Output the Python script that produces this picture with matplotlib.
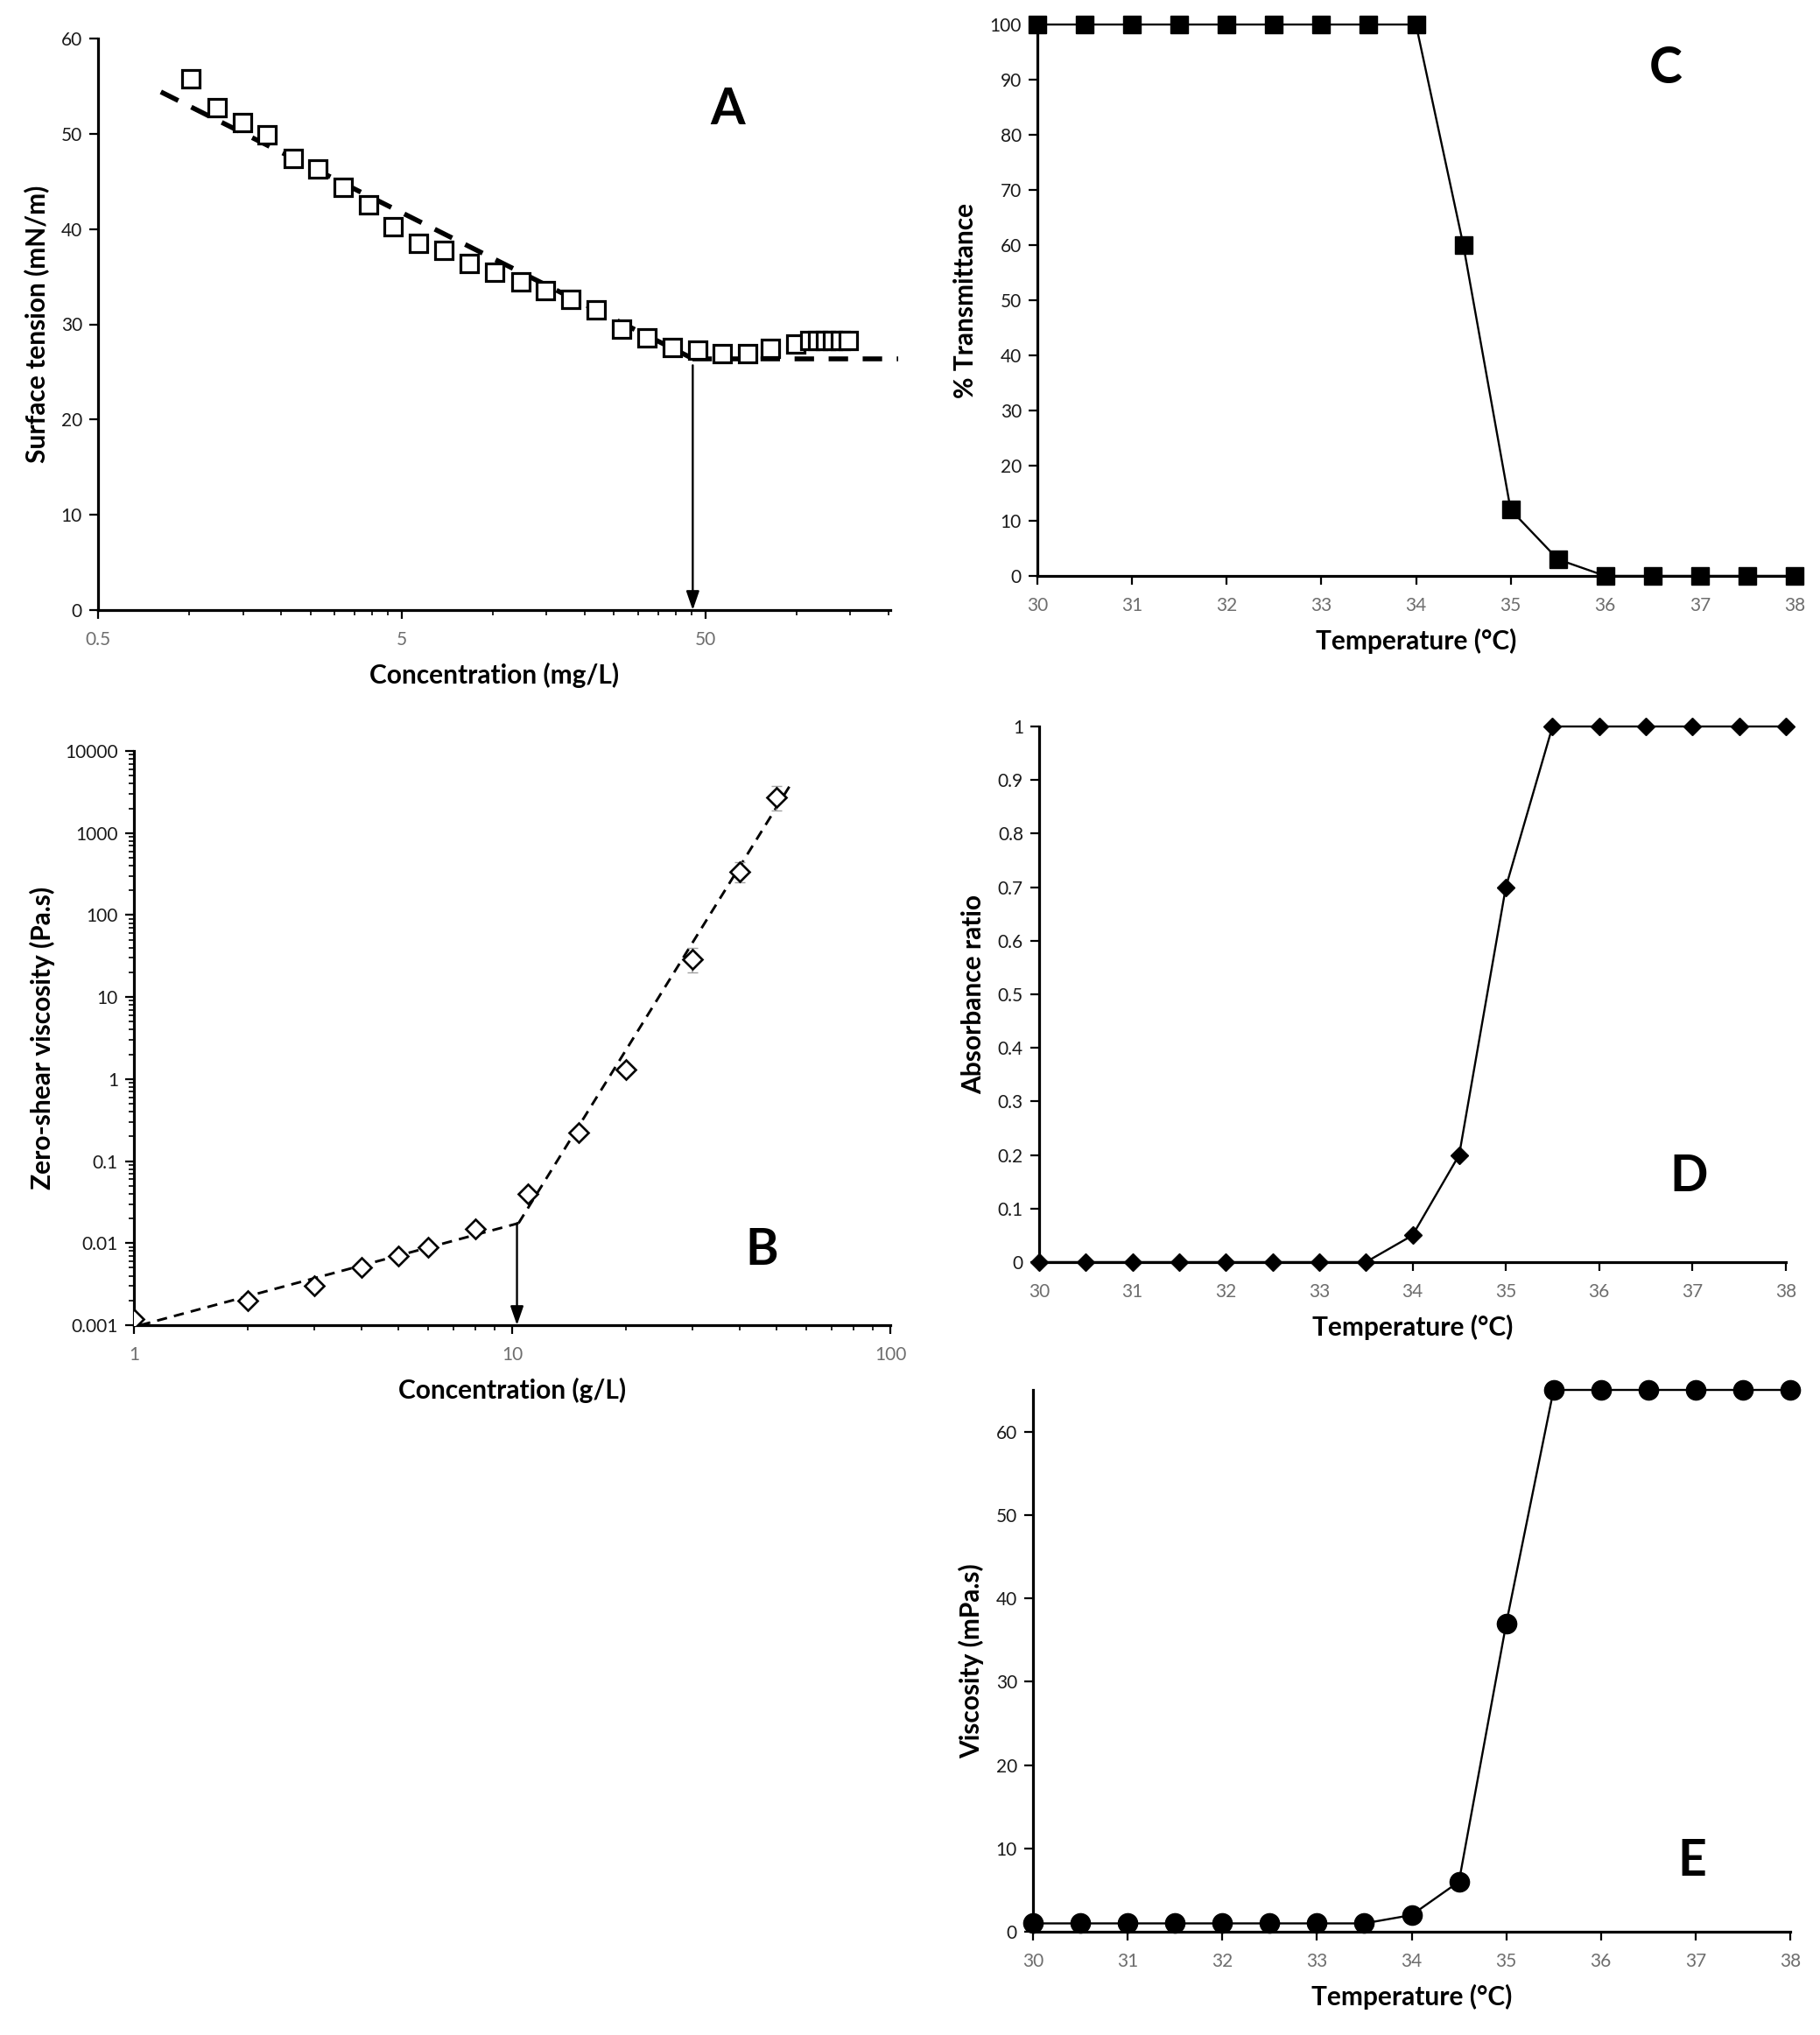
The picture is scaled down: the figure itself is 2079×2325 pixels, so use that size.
import matplotlib
matplotlib.use("Agg")
import matplotlib.pyplot as plt
from matplotlib.ticker import FixedLocator, FixedFormatter, NullFormatter
import numpy as np

plt.rcParams['font.family'] = ['Lato', 'DejaVu Sans']

# ---------------- Data ----------------
# Panel A: surface tension vs concentration (mg/L)
a_conc = [1.01, 1.23, 1.49, 1.80, 2.19, 2.65, 3.21, 3.88, 4.68, 5.68, 6.88, 8.34,
          10.1, 12.3, 14.9, 18.0, 21.8, 26.4, 32.0, 38.8, 47.0, 56.8, 68.8, 82.0,
          99.0, 110, 117, 124, 131, 139, 148]
a_tension = [55.8, 52.7, 51.2, 49.9, 47.4, 46.3, 44.4, 42.5, 40.2, 38.5, 37.8, 36.4,
             35.5, 34.5, 33.5, 32.6, 31.5, 29.5, 28.6, 27.6, 27.3, 26.9, 26.9, 27.5,
             27.9, 28.3, 28.3, 28.3, 28.3, 28.3, 28.3]
a_fit1_x = [0.805, 45.4]
a_fit1_y = [54.4, 26.4]
a_fit2_x = [45.4, 215]
a_fit2_y = [26.4, 26.4]
a_cmc = 45.4
a_xticks = [0.5, 5, 50]
a_xticklabels = ['0.5', '5', '50']
a_yticks = [0, 10, 20, 30, 40, 50, 60]

# Panel B: zero-shear viscosity vs concentration (g/L)
b_conc = [1, 2, 3, 4, 5, 6, 8, 11, 15, 20, 30, 40, 50]
b_visc = [0.0012, 0.002, 0.003, 0.005, 0.007, 0.009, 0.015, 0.04, 0.22, 1.3, 29, 340, 2700]
b_err_low = [0, 0, 0, 0, 0, 0, 0, 0, 0.02, 0.1, 9, 90, 800]
b_err_high = [0, 0, 0, 0, 0, 0, 0, 0, 0.02, 0.15, 11, 100, 1000]
b_fit1_x = [1.04, 10.4]
b_fit1_y = [0.001, 0.0175]
b_fit2_x = [10.4, 54.5]
b_fit2_y = [0.0175, 3900]
b_ce = 10.3
b_yticks = [0.001, 0.01, 0.1, 1, 10, 100, 1000, 10000]
b_yticklabels = ['0.001', '0.01', '0.1', '1', '10', '100', '1000', '10000']
b_xticks = [1, 10, 100]
b_xticklabels = ['1', '10', '100']

# Panels C, D, E: temperature series
temp = [30, 30.5, 31, 31.5, 32, 32.5, 33, 33.5, 34, 34.5, 35, 35.5, 36, 36.5, 37, 37.5, 38]
c_trans = [100, 100, 100, 100, 100, 100, 100, 100, 100, 60, 12, 3, 0, 0, 0, 0, 0]
d_abs = [0, 0, 0, 0, 0, 0, 0, 0, 0.05, 0.2, 0.7, 1, 1, 1, 1, 1, 1]
e_visc = [1, 1, 1, 1, 1, 1, 1, 1, 2, 6, 37, 65, 65, 65, 65, 65, 65]
t_ticks = [30, 31, 32, 33, 34, 35, 36, 37, 38]
c_yticks = [0, 10, 20, 30, 40, 50, 60, 70, 80, 90, 100]
d_yticks = [0, 0.1, 0.2, 0.3, 0.4, 0.5, 0.6, 0.7, 0.8, 0.9, 1]
d_yticklabels = ['0', '0.1', '0.2', '0.3', '0.4', '0.5', '0.6', '0.7', '0.8', '0.9', '1']
e_yticks = [0, 10, 20, 30, 40, 50, 60]

# ---------------- Figure ----------------
W, H = 2079, 2325
fig = plt.figure(figsize=(W / 100, H / 100), dpi=100)


def box(l, r, t, b):
    return [l / W, 1 - b / H, (r - l) / W, (b - t) / H]


XT_COLOR = '#6e6e6e'
TICK_FS = 15
LABEL_FS = 21.5
LETTER_FS = 41


def style(ax):
    for s in ['top', 'right']:
        ax.spines[s].set_visible(False)
    for s in ['left', 'bottom']:
        ax.spines[s].set_linewidth(2.3)
        ax.spines[s].set_color('black')
    ax.tick_params(which='major', direction='out', length=7, width=1.6, labelsize=TICK_FS)
    ax.tick_params(which='minor', direction='out', length=4, width=1.2)
    ax.tick_params(axis='x', which='major', labelcolor=XT_COLOR, pad=10)
    ax.tick_params(axis='y', which='major', labelcolor='#1a1a1a', pad=6)


# Panel A
axA = fig.add_axes(box(112, 1017, 44, 697))
axA.set_xscale('log')
axA.plot(a_fit1_x, a_fit1_y, color='black', lw=4.0, dashes=(4, 3.0), zorder=2)
axA.plot(a_fit2_x, a_fit2_y, color='black', lw=4.0, dashes=(4, 3.0), zorder=2, clip_on=False)
axA.plot(a_conc, a_tension, ls='none', marker='s', ms=14.5, mfc='white', mec='black', mew=2.3, zorder=3)
axA.annotate('', xy=(a_cmc, 0), xytext=(a_cmc, 25.7),
             arrowprops=dict(arrowstyle='-|>,head_length=1.3,head_width=0.45', color='black', lw=1.7,
                             shrinkA=0, shrinkB=0), zorder=4)
axA.set_xlim(0.5, 203)
axA.set_ylim(0, 60)
axA.xaxis.set_major_locator(FixedLocator(a_xticks))
axA.xaxis.set_major_formatter(FixedFormatter(a_xticklabels))
minorA = [0.5 * k * 10 ** n for n in range(0, 3) for k in range(2, 10)]
axA.xaxis.set_minor_locator(FixedLocator(minorA))
axA.xaxis.set_minor_formatter(NullFormatter())
axA.set_yticks(a_yticks)
style(axA)
axA.set_xlabel('Concentration (mg/L)', fontsize=LABEL_FS, fontweight='bold', labelpad=12)
axA.set_ylabel('Surface tension (mN/m)', fontsize=LABEL_FS, fontweight='bold', labelpad=10)
axA.text(0.795, 0.875, 'A', transform=axA.transAxes, fontsize=LETTER_FS, fontweight='bold',
         ha='center', va='center')

# Panel B
axB = fig.add_axes(box(153, 1017, 858, 1514))
axB.set_xscale('log')
axB.set_yscale('log')
axB.plot(b_fit1_x, b_fit1_y, color='black', lw=2.1, dashes=(4, 2.8), zorder=2)
axB.plot(b_fit2_x, b_fit2_y, color='black', lw=2.1, dashes=(4, 2.8), zorder=2)
axB.errorbar(b_conc, b_visc, yerr=[b_err_low, b_err_high], fmt='none', ecolor='#a0a0a0',
             elinewidth=1.2, capsize=4, zorder=2.5)
axB.plot(b_conc, b_visc, ls='none', marker='D', ms=11, mfc='white', mec='black', mew=1.9, zorder=3)
axB.annotate('', xy=(b_ce, 0.001), xytext=(b_ce, 0.0175),
             arrowprops=dict(arrowstyle='-|>,head_length=1.3,head_width=0.45', color='black', lw=1.7,
                             shrinkA=0, shrinkB=0), zorder=4)
axB.set_xlim(1, 100)
axB.set_ylim(0.001, 10000)
axB.xaxis.set_major_locator(FixedLocator(b_xticks))
axB.xaxis.set_major_formatter(FixedFormatter(b_xticklabels))
axB.xaxis.set_minor_locator(FixedLocator([k * 10 ** n for n in range(0, 2) for k in range(2, 10)]))
axB.xaxis.set_minor_formatter(NullFormatter())
axB.yaxis.set_major_locator(FixedLocator(b_yticks))
axB.yaxis.set_major_formatter(FixedFormatter(b_yticklabels))
axB.yaxis.set_minor_locator(FixedLocator([k * 10.0 ** n for n in range(-3, 4) for k in range(2, 10)]))
axB.yaxis.set_minor_formatter(NullFormatter())
style(axB)
axB.set_xlabel('Concentration (g/L)', fontsize=LABEL_FS, fontweight='bold', labelpad=12)
axB.set_ylabel('Zero-shear viscosity (Pa.s)', fontsize=LABEL_FS, fontweight='bold', labelpad=8)
axB.text(0.83, 0.13, 'B', transform=axB.transAxes, fontsize=LETTER_FS, fontweight='bold',
         ha='center', va='center')

# Panel C
axC = fig.add_axes(box(1185, 2050, 28, 658))
axC.plot(temp, c_trans, color='black', lw=1.7, marker='s', ms=15, mfc='black', mec='black', clip_on=False, zorder=3)
axC.set_xlim(30, 38)
axC.set_ylim(0, 100)
axC.set_xticks(t_ticks)
axC.set_yticks(c_yticks)
style(axC)
axC.set_xlabel('Temperature (°C)', fontsize=LABEL_FS, fontweight='bold', labelpad=12)
axC.set_ylabel('% Transmittance', fontsize=LABEL_FS, fontweight='bold', labelpad=10)
axC.text(0.83, 0.92, 'C', transform=axC.transAxes, fontsize=LETTER_FS, fontweight='bold',
         ha='center', va='center')

# Panel D
axD = fig.add_axes(box(1187, 2040, 830, 1442))
axD.plot(temp, d_abs, color='black', lw=1.7, marker='D', ms=10.5, mfc='black', mec='black', clip_on=False, zorder=3)
axD.set_xlim(30, 38)
axD.set_ylim(0, 1)
axD.set_xticks(t_ticks)
axD.yaxis.set_major_locator(FixedLocator(d_yticks))
axD.yaxis.set_major_formatter(FixedFormatter(d_yticklabels))
style(axD)
axD.set_xlabel('Temperature (°C)', fontsize=LABEL_FS, fontweight='bold', labelpad=12)
axD.set_ylabel('Absorbance ratio', fontsize=LABEL_FS, fontweight='bold', labelpad=10)
axD.text(0.87, 0.16, 'D', transform=axD.transAxes, fontsize=LETTER_FS, fontweight='bold',
         ha='center', va='center')

# Panel E
axE = fig.add_axes(box(1180, 2045, 1588, 2207))
axE.plot(temp, e_visc, color='black', lw=1.7, marker='o', ms=16, mfc='black', mec='black', clip_on=False, zorder=3)
axE.set_xlim(30, 38)
axE.set_ylim(0, 65)
axE.set_xticks(t_ticks)
axE.set_yticks(e_yticks)
style(axE)
axE.set_xlabel('Temperature (°C)', fontsize=LABEL_FS, fontweight='bold', labelpad=12)
axE.set_ylabel('Viscosity (mPa.s)', fontsize=LABEL_FS, fontweight='bold', labelpad=10)
axE.text(0.87, 0.13, 'E', transform=axE.transAxes, fontsize=LETTER_FS, fontweight='bold',
         ha='center', va='center')

fig.savefig('out.png', dpi=100, facecolor='white')
